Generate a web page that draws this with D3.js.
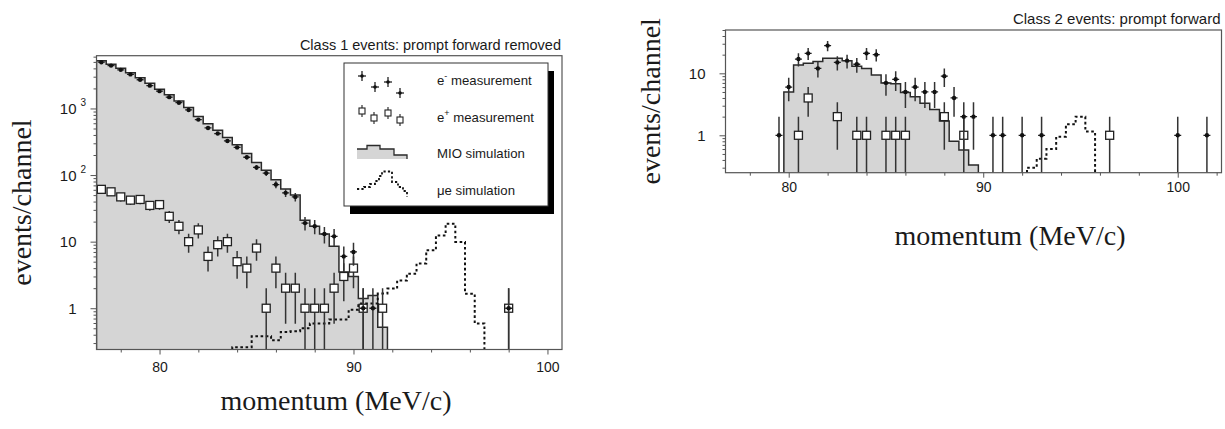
<!DOCTYPE html>
<html><head><meta charset="utf-8">
<script src="https://cdn.jsdelivr.net/npm/d3@7"></script>
<style>
body{margin:0;background:#fff;}
svg{display:block;}
text{font-family:"Liberation Sans",Arial,Helvetica,sans-serif;fill:#1a1a1a;}
.serif{font-family:"Liberation Serif","Times New Roman",serif;}
</style></head><body>
<svg id="chart" width="1225" height="429"></svg>
<script>
// ---------------- DATA ----------------
const c1XDomain = [76.75, 100.75];
const c2XDomain = [76.75, 102.25];
const xMajorTicks = [80, 90, 100];
const c1XMinorTicks = [78, 82, 84, 86, 88, 92, 94, 96, 98];
const c2XMinorTicks = [78, 82, 84, 86, 88, 92, 94, 96, 98, 102];

// Class 1 (left panel)
const c1EminusX = [77.0,77.5,78.0,78.5,79.0,79.5,80.0,80.5,81.0,81.5,82.0,82.5,83.0,83.5,84.0,84.5,85.0,85.5,86.0,86.5,87.0,87.5,88.0,88.5,89.0,89.5,90.0,90.5,91.0,98.0];
const c1EminusN = [4950,4400,3800,3250,2700,2200,1820,1480,1220,950,680,510,420,325,260,185,130,107,72,54,47,19,17,13,12,6,7,1,1,1];
const c1EplusX = [77.0,77.5,78.0,78.5,79.0,79.5,80.0,80.5,81.0,81.5,82.0,82.5,83.0,83.5,84.0,84.5,85.0,85.5,86.0,86.5,87.0,87.5,88.0,88.5,89.0,89.5,90.0,90.5,91.5,98.0];
const c1EplusN = [61,56,47,42,43,35,36,24,17,10,15,6,9,10,5,4,8,1,4,2,2,1,1,1,2,3,4,1,1,1];
const c1MioX = [77.0,77.5,78.0,78.5,79.0,79.5,80.0,80.5,81.0,81.5,82.0,82.5,83.0,83.5,84.0,84.5,85.0,85.5,86.0,86.5,87.0,87.5,88.0,88.5,89.0,89.5,90.0,90.5,91.0,91.5];
const c1MioN = [5200,4600,4000,3450,2900,2400,1950,1600,1300,1030,760,590,470,365,285,210,155,118,85,62,50,21,17,13,8.5,3.5,3.0,1.4,1.55,0.52];
const c1MueX = [84.0,84.5,85.0,85.5,86.0,86.5,87.0,87.5,88.0,88.5,89.0,89.5,90.0,90.5,91.0,91.5,92.0,92.5,93.0,93.5,94.0,94.5,95.0,95.5,96.0,96.5];
const c1MueN = [0.26,0.26,0.38,0.38,0.33,0.44,0.45,0.5,0.59,0.59,0.68,0.68,0.95,1.18,1.18,1.66,1.97,2.6,3.3,4.7,7.4,12.4,18.6,9.9,1.65,0.59];
const c1YTicks = [1, 10, 100, 1000];
const c1YLabels = ["1", "10", "10", "10"];
const c1YSups = ["", "", "2", "3"];

// Class 2 (right panel)
const c2EminusX = [79.5,80.0,80.5,81.0,81.5,82.0,82.5,83.0,83.5,84.0,84.5,85.0,85.5,86.0,86.5,87.0,87.5,88.0,88.5,89.0,89.5,90.5,91.0,92.0,93.0,100.0,101.5];
const c2EminusN = [1,6,17,21,12,28,15,16,14,21,20,7,8,5,6,5,5,9,4,2,2,1,1,1,1,1,1];
const c2EplusX = [80.5,81.0,82.5,83.5,84.0,85.0,85.5,86.0,88.0,89.0,96.5];
const c2EplusN = [1,4,2,1,1,1,1,1,2,1,1];
const c2MioX = [80.0,80.5,81.0,81.5,82.0,82.5,83.0,83.5,84.0,84.5,85.0,85.5,86.0,86.5,87.0,87.5,88.0,88.5,89.0,89.5];
const c2MioN = [5,13.6,14.5,15.5,17.5,17.5,16,13,12,9.4,7,6.8,4.9,4.2,3.3,2.6,1.7,0.8,0.58,0.33];
const c2MueX = [92.5,93.0,93.5,94.0,94.5,95.0,95.5];
const c2MueN = [0.3,0.42,0.6,0.95,1.5,2.0,1.15];
const c2YTicks = [1, 10];
const c2YLabels = ["1", "10"];
const c2YSups = ["", ""];

const binHalf = 0.25;

const legendLabels = ["measurement", "measurement", "MIO simulation", "\u03bce simulation"];

// ---------------- DRAWING ----------------
const svg = d3.select("#chart");
let clipId = 0;

function panel(cfg) {
  const x = d3.scaleLinear().domain(cfg.xDomain).range([cfg.x0, cfg.x1]);
  const y = d3.scaleLog().domain(cfg.yDomain).range([cfg.y1, cfg.y0]);
  const yMin = cfg.yDomain[0];
  const g = svg.append("g");
  const cid = "clip" + (clipId++);
  g.append("clipPath").attr("id", cid).append("rect")
    .attr("x", cfg.x0).attr("y", cfg.y0).attr("width", cfg.x1 - cfg.x0).attr("height", cfg.y1 - cfg.y0);
  const plot = g.append("g").attr("clip-path", `url(#${cid})`);

  function stepPts(xs, ns) {
    const pts = [[xs[0] - binHalf, yMin]];
    xs.forEach((c, i) => { pts.push([c - binHalf, ns[i]]); pts.push([c + binHalf, ns[i]]); });
    pts.push([xs[xs.length - 1] + binHalf, yMin]);
    return pts;
  }
  const line = d3.line().x(d => x(d[0])).y(d => y(Math.max(d[1], yMin)));

  // MIO histogram
  const mio = stepPts(cfg.mioX, cfg.mioN);
  plot.append("path").attr("d", line(mio) + "Z").attr("fill", "#d5d5d5").attr("stroke", "none");
  plot.append("path").attr("d", line(mio)).attr("fill", "none").attr("stroke", "#2a2a2a").attr("stroke-width", 1.5);

  // mu-e simulation (dashed)
  const mue = stepPts(cfg.mueX, cfg.mueN);
  plot.append("path").attr("d", line(mue)).attr("fill", "none").attr("stroke", "#111")
    .attr("stroke-width", 2).attr("stroke-dasharray", "2.6,2.6");

  // e+ : error bars then open squares
  const ep = cfg.eplusX.map((v, i) => ({x: v, n: cfg.eplusN[i]}));
  plot.selectAll(".epErr").data(ep).enter().append("line")
    .attr("x1", d => x(d.x)).attr("x2", d => x(d.x))
    .attr("y1", d => y(Math.max(d.n - Math.sqrt(d.n), yMin)))
    .attr("y2", d => y(d.n + Math.sqrt(d.n)))
    .attr("stroke", "#333").attr("stroke-width", 1.5);
  plot.selectAll(".epSq").data(ep).enter().append("rect")
    .attr("x", d => x(d.x) - 4).attr("y", d => y(d.n) - 4)
    .attr("width", 8).attr("height", 8)
    .attr("fill", "#fff").attr("stroke", "#222").attr("stroke-width", 1.3);

  // e- : crosses
  const em = cfg.eminusX.map((v, i) => ({x: v, n: cfg.eminusN[i]}));
  plot.selectAll(".emErr").data(em).enter().append("line")
    .attr("x1", d => x(d.x)).attr("x2", d => x(d.x))
    .attr("y1", d => y(Math.max(d.n - Math.sqrt(d.n), yMin)))
    .attr("y2", d => y(d.n + Math.sqrt(d.n)))
    .attr("stroke", "#333").attr("stroke-width", 1.5);
  plot.selectAll(".emH").data(em).enter().append("line")
    .attr("x1", d => x(d.x) - 3.5).attr("x2", d => x(d.x) + 3.5)
    .attr("y1", d => y(d.n)).attr("y2", d => y(d.n))
    .attr("stroke", "#222").attr("stroke-width", 1.3);
  plot.selectAll(".emDot").data(em).enter().append("circle")
    .attr("cx", d => x(d.x)).attr("cy", d => y(d.n)).attr("r", 2.2).attr("fill", "#111");

  // frame
  g.append("rect").attr("x", cfg.x0).attr("y", cfg.y0)
    .attr("width", cfg.x1 - cfg.x0).attr("height", cfg.y1 - cfg.y0)
    .attr("fill", "none").attr("stroke", "#555").attr("stroke-width", 1.2);

  // x ticks
  const xa = g.append("g").attr("transform", `translate(0,${cfg.y1})`);
  xa.call(d3.axisBottom(x).tickValues(xMajorTicks).tickSize(5).tickPadding(6).tickFormat(d3.format("d")));
  xa.select(".domain").remove();
  xa.selectAll("line").attr("stroke", "#555");
  xa.selectAll("text").attr("font-size", 14).attr("y", cfg.xLabelDy).attr("dy", 0)
    .style("font-family", "'Liberation Sans',Arial,sans-serif").attr("fill", "#1a1a1a");
  const xm = g.append("g").attr("transform", `translate(0,${cfg.y1})`);
  xm.call(d3.axisBottom(x).tickValues(cfg.xMinor).tickSize(3).tickFormat(""));
  xm.select(".domain").remove();
  xm.selectAll("line").attr("stroke", "#555");

  // y ticks (minor + major)
  const minor = y.ticks().filter(t => !cfg.yTicks.includes(t));
  const ym = g.append("g").attr("transform", `translate(${cfg.x0},0)`);
  ym.call(d3.axisLeft(y).tickValues(minor).tickSize(3).tickFormat(""));
  ym.select(".domain").remove();
  ym.selectAll("line").attr("stroke", "#555");
  const yM = g.append("g").attr("transform", `translate(${cfg.x0},0)`);
  yM.call(d3.axisLeft(y).tickValues(cfg.yTicks).tickSize(6).tickFormat(""));
  yM.select(".domain").remove();
  yM.selectAll("line").attr("stroke", "#555");
  cfg.yTicks.forEach((t, i) => {
    g.append("text").attr("x", cfg.x0 - 20).attr("y", y(t) + 5.5)
      .attr("text-anchor", "end").attr("font-size", 15).text(cfg.yLabels[i]);
    if (cfg.ySups[i]) {
      g.append("text").attr("x", cfg.x0 - 16).attr("y", y(t) - 2)
        .attr("font-size", 10).text(cfg.ySups[i]);
    }
  });

  // titles
  g.append("text").attr("x", cfg.x1 - 1).attr("y", cfg.titleY).attr("text-anchor", "end")
    .attr("font-size", cfg.titleSize).text(cfg.title);
  g.append("text").attr("class", "serif").attr("font-size", 28)
    .attr("text-anchor", "middle")
    .attr("transform", `translate(${cfg.x0 - 65.5},${(cfg.y0 + cfg.y1) / 2}) rotate(-90)`)
    .text("events/channel");
  g.append("text").attr("class", "serif").attr("font-size", 28)
    .attr("text-anchor", "middle")
    .attr("x", cfg.xTitleX).attr("y", cfg.xTitleY)
    .text("momentum (MeV/c)");
  return g;
}

panel({
  x0: 96.5, x1: 562, y0: 55.7, y1: 349.5, xDomain: c1XDomain, xMinor: c1XMinorTicks, yDomain: [0.24, 6200],
  eminusX: c1EminusX, eminusN: c1EminusN, eplusX: c1EplusX, eplusN: c1EplusN,
  mioX: c1MioX, mioN: c1MioN, mueX: c1MueX, mueN: c1MueN,
  yTicks: c1YTicks, yLabels: c1YLabels, ySups: c1YSups,
  title: "Class 1 events: prompt forward removed", titleY: 50, titleSize: 14.5, xLabelDy: 22,
  xTitleX: 336, xTitleY: 410
});
panel({
  x0: 725.5, x1: 1221.5, y0: 30, y1: 172.7, xDomain: c2XDomain, xMinor: c2XMinorTicks, yDomain: [0.249, 50],
  eminusX: c2EminusX, eminusN: c2EminusN, eplusX: c2EplusX, eplusN: c2EplusN,
  mioX: c2MioX, mioN: c2MioN, mueX: c2MueX, mueN: c2MueN,
  yTicks: c2YTicks, yLabels: c2YLabels, ySups: c2YSups,
  title: "Class 2 events: prompt forward", titleY: 24, titleSize: 15, xLabelDy: 19,
  xTitleX: 1010, xTitleY: 245
});

// ---------------- LEGEND (left panel) ----------------
(function legend() {
  const bx = 344, by = 63, bw = 204, bh = 143;
  const lg = svg.append("g");
  lg.append("rect").attr("x", bx + 6).attr("y", by + 8).attr("width", bw).attr("height", bh).attr("fill", "#000");
  lg.append("rect").attr("x", bx).attr("y", by).attr("width", bw).attr("height", bh)
    .attr("fill", "#fff").attr("stroke", "#333").attr("stroke-width", 1);
  // e- symbol
  [[18,13],[31,24],[44,19],[56,30]].forEach(p => {
    lg.append("line").attr("x1", bx+p[0]).attr("x2", bx+p[0]).attr("y1", by+p[1]-5).attr("y2", by+p[1]+5).attr("stroke", "#222").attr("stroke-width", 1.3);
    lg.append("line").attr("x1", bx+p[0]-4).attr("x2", bx+p[0]+4).attr("y1", by+p[1]).attr("y2", by+p[1]).attr("stroke", "#222").attr("stroke-width", 1.3);
    lg.append("circle").attr("cx", bx+p[0]).attr("cy", by+p[1]).attr("r", 1.8).attr("fill", "#111");
  });
  // e+ symbol
  [[18,48],[30,55],[44,50],[56,57]].forEach(p => {
    lg.append("line").attr("x1", bx+p[0]).attr("x2", bx+p[0]).attr("y1", by+p[1]-6).attr("y2", by+p[1]+6).attr("stroke", "#333").attr("stroke-width", 1.2);
    lg.append("rect").attr("x", bx+p[0]-3).attr("y", by+p[1]-3).attr("width", 6).attr("height", 6).attr("fill", "#fff").attr("stroke", "#222").attr("stroke-width", 1.1);
  });
  // MIO symbol
  const mioPts = [[13,96],[13,86],[23,86],[23,82.5],[36,82.5],[36,86],[50,86],[50,92],[63,92],[63,96]];
  lg.append("path").attr("d", d3.line()(mioPts.map(p => [bx+p[0], by+p[1]])) + "Z").attr("fill", "#d5d5d5");
  lg.append("path").attr("d", d3.line()(mioPts.slice(1).map(p => [bx+p[0], by+p[1]]))).attr("fill", "none").attr("stroke", "#2a2a2a").attr("stroke-width", 1.3);
  // mu-e symbol
  const muePts = [[13,126],[20,126],[20,124],[26,124],[26,121],[31,121],[31,118],[35,118],[35,113],[38,113],[38,108.5],[48,108.5],[48,119],[54,119],[54,124],[59,124],[59,128],[63,128],[63,134]];
  lg.append("path").attr("d", d3.line()(muePts.map(p => [bx+p[0], by+p[1]]))).attr("fill", "none").attr("stroke", "#111").attr("stroke-width", 1.8).attr("stroke-dasharray", "2.2,2.2");
  // texts
  const tx = bx + 93, fs = 13.2;
  const t1 = lg.append("text").attr("x", tx).attr("y", by + 22).attr("font-size", fs);
  t1.append("tspan").text("e");
  t1.append("tspan").attr("dy", -6).attr("font-size", 9).text("-");
  t1.append("tspan").attr("dy", 6).text(" " + legendLabels[0]);
  const t2 = lg.append("text").attr("x", tx).attr("y", by + 59).attr("font-size", fs);
  t2.append("tspan").text("e");
  t2.append("tspan").attr("dy", -6).attr("font-size", 9).text("+");
  t2.append("tspan").attr("dy", 6).text(" " + legendLabels[1]);
  lg.append("text").attr("x", tx).attr("y", by + 95).attr("font-size", fs).text(legendLabels[2]);
  lg.append("text").attr("x", tx).attr("y", by + 132).attr("font-size", fs).text(legendLabels[3]);
})();
</script>
</body></html>
